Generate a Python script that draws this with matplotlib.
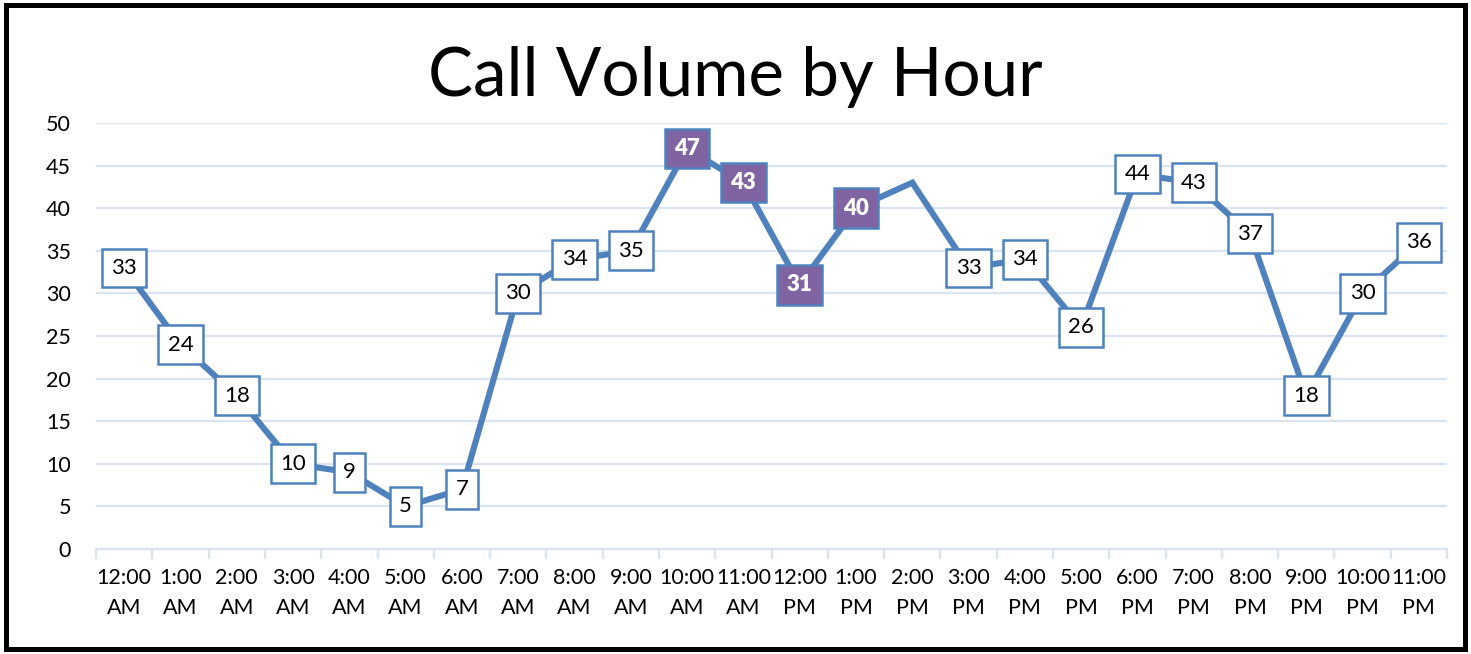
import matplotlib
matplotlib.use("Agg")
import matplotlib.pyplot as plt
from matplotlib.patches import Rectangle
from matplotlib.ticker import FixedLocator
import numpy as np

plt.rcParams["font.family"] = ["Lato", "DejaVu Sans"]

LINE_BLUE = "#4F81BD"
PURPLE = "#8064A2"
GRID = "#D9E3F1"

hours = ["12:00\nAM", "1:00\nAM", "2:00\nAM", "3:00\nAM", "4:00\nAM", "5:00\nAM",
         "6:00\nAM", "7:00\nAM", "8:00\nAM", "9:00\nAM", "10:00\nAM", "11:00\nAM",
         "12:00\nPM", "1:00\nPM", "2:00\nPM", "3:00\nPM", "4:00\nPM", "5:00\nPM",
         "6:00\nPM", "7:00\nPM", "8:00\nPM", "9:00\nPM", "10:00\nPM", "11:00\nPM"]
calls = [33, 24, 18, 10, 9, 5, 7, 30, 34, 35, 47, 43, 31, 40, 43, 33, 34, 26,
         44, 43, 37, 18, 30, 36]
highlight = [10, 11, 12, 13]   # peak hours shown in purple
no_label = [14]

fig = plt.figure(figsize=(14.71, 6.54), dpi=100)
ax = fig.add_axes([0.0653, 0.1606, 0.9184, 0.6513])

x = np.arange(len(calls))
ax.plot(x, calls, color=LINE_BLUE, lw=4.4, solid_joinstyle="miter", zorder=3)

for i, v in enumerate(calls):
    if i in no_label:
        continue
    if i in highlight:
        ax.text(i, v, str(v), ha="center", va="center", fontsize=16, color="white",
                fontweight="heavy", zorder=5,
                bbox=dict(boxstyle="square,pad=0.42", fc=PURPLE, ec=LINE_BLUE, lw=1.8))
    else:
        ax.text(i, v, str(v), ha="center", va="center", fontsize=16, color="black",
                zorder=5,
                bbox=dict(boxstyle="square,pad=0.42", fc="white", ec=LINE_BLUE, lw=1.8))

ax.set_xlim(-0.5, len(calls) - 0.5)
ax.set_ylim(0, 50)
ax.set_yticks(range(0, 51, 5))
ax.tick_params(axis="y", length=0, pad=18, labelsize=15.5)
ax.set_xticks(x)
ax.set_xticklabels(hours, fontsize=15.5, linespacing=1.6)
ax.xaxis.set_minor_locator(FixedLocator(np.arange(-0.5, len(calls), 1)))
ax.tick_params(axis="x", which="major", length=0, pad=14)
ax.tick_params(axis="x", which="minor", length=7, width=1.6, color=GRID, direction="out")

ax.grid(axis="y", color=GRID, lw=1.6, zorder=0)
ax.set_axisbelow(True)
for s in ["top", "right", "left"]:
    ax.spines[s].set_visible(False)
ax.spines["bottom"].set_color(GRID)
ax.spines["bottom"].set_linewidth(1.6)

fig.text(0.5, 0.882, "Call Volume by Hour", ha="center", va="center", fontsize=48.5)

fig.patches.append(Rectangle((0.004, 0.007), 0.992, 0.986, transform=fig.transFigure,
                             fill=False, ec="black", lw=3.6))

fig.savefig("out.png", dpi=100)
